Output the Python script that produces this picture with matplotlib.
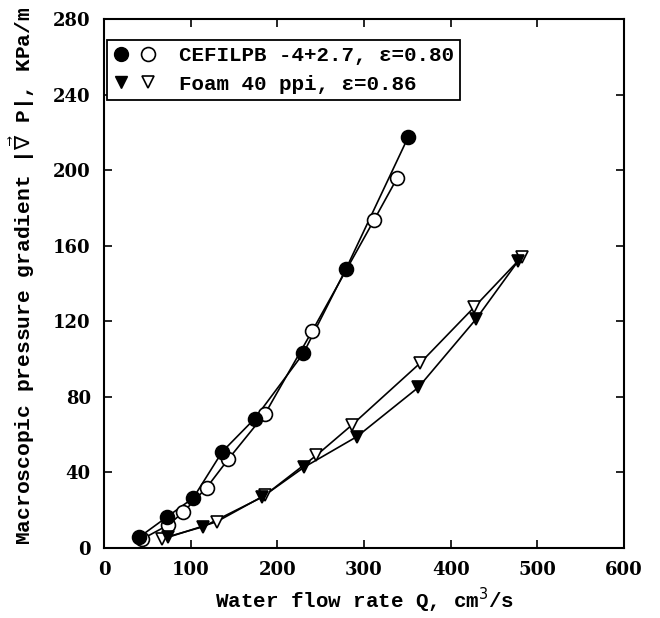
import matplotlib
matplotlib.use("Agg")
import matplotlib.pyplot as plt
from matplotlib.legend_handler import HandlerTuple
from matplotlib.lines import Line2D

# Data
cef_filled_q = [40.8, 72.3, 103, 136.5, 174, 230, 279, 351]
cef_filled_p = [5.8, 16.3, 26.5, 51, 68.5, 103, 147.5, 217.5]
cef_open_q = [43.5, 74.2, 91.5, 118.5, 143.4, 185.8, 240.4, 311.5, 338.5]
cef_open_p = [4.6, 12.2, 19, 32, 47, 71, 115, 173.5, 196]
foam_filled_q = [74, 114.6, 182, 231, 292, 362.7, 429, 478]
foam_filled_p = [6, 11.3, 26.8, 42.8, 59, 85, 121, 152]
foam_open_q = [66.6, 130, 185.8, 245, 285.8, 364.6, 427, 482]
foam_open_p = [4.6, 13.9, 28, 49, 65, 97.8, 127.4, 154]

xticks = [0, 100, 200, 300, 400, 500, 600]
yticks = [0, 40, 80, 120, 160, 200, 240, 280]
legend_labels = ["CEFILPB -4+2.7, ε=0.80", "Foam 40 ppi, ε=0.86"]

fig = plt.figure(figsize=(6.6, 6.18), dpi=100)
ax = fig.add_axes([104/660, 1 - 548/618, 520/660, 529/618])

lw = 1.2
ax.plot(cef_filled_q, cef_filled_p, '-', color='black', lw=lw, zorder=2)
ax.plot(cef_open_q, cef_open_p, '-', color='black', lw=lw, zorder=2)
ax.plot(foam_filled_q, foam_filled_p, '-', color='black', lw=lw, zorder=2)
ax.plot(foam_open_q, foam_open_p, '-', color='black', lw=lw, zorder=2)

ms_c = 10
ms_t = 9
ax.plot(cef_open_q, cef_open_p, 'o', ms=ms_c, mfc='white', mec='black', mew=1.2, ls='none', zorder=3)
ax.plot(cef_filled_q, cef_filled_p, 'o', ms=ms_c, mfc='black', mec='black', mew=1.2, ls='none', zorder=4)
ax.plot(foam_open_q, foam_open_p, 'v', ms=ms_t, mfc='white', mec='black', mew=1.2, ls='none', zorder=3)
ax.plot(foam_filled_q, foam_filled_p, 'v', ms=ms_t, mfc='black', mec='black', mew=1.2, ls='none', zorder=4)

ax.set_xlim(0, 600)
ax.set_ylim(0, 280)
ax.set_xticks(xticks)
ax.set_yticks(yticks)
tickfont = dict(family='DejaVu Serif', weight='bold', size=13)
ax.set_xticklabels([str(t) for t in xticks], fontdict=tickfont)
ax.set_yticklabels([str(t) for t in yticks], fontdict=tickfont)
ax.tick_params(direction='in', length=6, width=1.2, top=True, right=True, pad=9.5)
for s in ax.spines.values():
    s.set_linewidth(1.5)

ax.set_xlabel("Water flow rate Q, cm$^{3}$/s",
              fontdict=dict(family='Liberation Mono', weight='bold', size=15), labelpad=5)
ax.set_ylabel(r"Macroscopic pressure gradient |$\vec{\nabla}$ P|, KPa/m",
              fontdict=dict(family='Liberation Mono', weight='bold', size=15.3))
ax.yaxis.set_label_coords(-0.129, 0.515)

fs = 15
h1 = (Line2D([], [], marker='o', ms=ms_c, mfc='black', mec='black', ls='none'),
      Line2D([], [], marker='o', ms=ms_c, mfc='white', mec='black', mew=1.2, ls='none'))
h2 = (Line2D([], [], marker='v', ms=ms_t, mfc='black', mec='black', ls='none'),
      Line2D([], [], marker='v', ms=ms_t, mfc='white', mec='black', mew=1.2, ls='none'))
leg = ax.legend([h1, h2], legend_labels, handler_map={tuple: HandlerTuple(ndivide=None, pad=0.6)},
                loc='upper left', bbox_to_anchor=(0.006, 0.960), fancybox=False, framealpha=1,
                edgecolor='black', prop=dict(family='Liberation Mono', weight='bold', size=fs),
                handlelength=2.0, handletextpad=1.15, borderpad=0.3, labelspacing=0.45,
                borderaxespad=0.0)
leg.get_frame().set_linewidth(1.3)

fig.savefig("out.png", dpi=100)
